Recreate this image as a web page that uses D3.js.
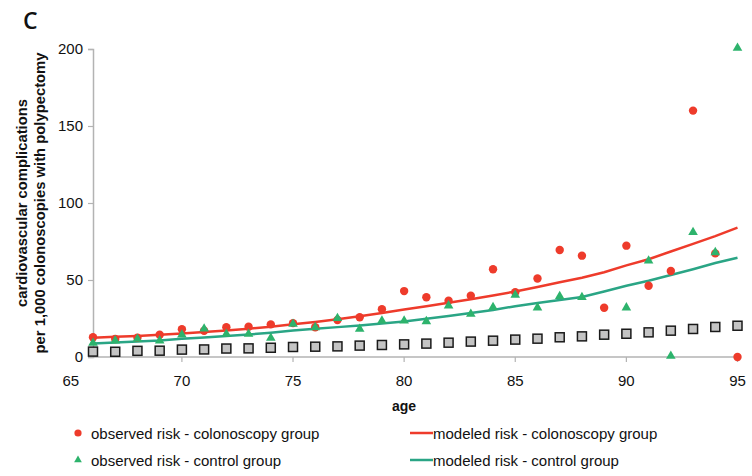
<!DOCTYPE html>
<html>
<head>
<meta charset="utf-8">
<script src="https://cdn.jsdelivr.net/npm/d3@7"></script>
<style>
  body { margin: 0; background: #fff; }
  text { font-family: "Liberation Sans", Arial, sans-serif; fill: #111; }
</style>
</head>
<body>
<div class="chart"></div>
<script>
// ages on the x axis
const ages = d3.range(66, 96);
// observed risk - colonoscopy group (red dots)
const obsColon = [12.8, 11.7, 12.5, 14.5, 18, 17, 19.3, 19.7, 21.2, 22, 19.3, 24, 25.8, 31, 42.8, 38.8, 36.6, 39.8, 57, 42, 51, 69.5, 65.8, 32, 72.3, 46.3, 55.8, 160, 67.3, 0];
// observed risk - control group (green triangles)
const obsControl = [8.4, 10, 11, 10, 13.8, 17.7, 14.3, 14.3, 11.7, 20.8, 18.6, 24.5, 17.5, 22.9, 22.9, 22.5, 32.7, 27.3, 31.6, 39.6, 31.4, 38.8, 38.1, 12.5, 31.4, 61.9, 0, 80.3, 67.3, 200];
// unlabelled grey squares
const excess = [3.5, 3.4, 4, 4.1, 4.8, 4.9, 5.5, 5.6, 6, 6.5, 6.7, 6.9, 7.4, 7.8, 8.2, 8.7, 9.3, 10, 10.6, 11.3, 11.9, 12.8, 13.4, 14.5, 15.1, 16, 17.1, 18.2, 19.5, 20.3];
// modeled risk lines
const modColon = [12.5, 13.1, 13.7, 14.4, 15.3, 16.2, 17.2, 18.4, 19.7, 21.2, 22.8, 24.5, 26.4, 28.6, 30.9, 33, 35.2, 37.5, 40, 42.5, 45.5, 48.5, 51.5, 55, 59.5, 63.5, 68.5, 73.5, 78.5, 84];
const modControl = [8.8, 9.4, 10, 10.7, 11.8, 12.6, 13.6, 14.6, 15.8, 17.2, 18.3, 19.4, 20.5, 21.7, 23, 24.8, 26.6, 28.5, 30.5, 33, 35, 37, 39, 42.5, 46.3, 49.5, 53.2, 57, 61, 64.5];
const xTicks = [65, 70, 75, 80, 85, 90, 95];
const yTicks = [0, 50, 100, 150, 200];

const RED = '#ee3b2b', GREEN = '#2db36c', TEAL = '#2aa585', AXIS = '#b3b3b3';

const svg = d3.select('.chart').append('svg').attr('width', 752).attr('height', 476);

const x = d3.scaleLinear().domain([66, 95]).range([93, 737.5]);
const y = d3.scaleLinear().domain([0, 200]).range([357, 49]);

// panel letter
svg.append('text').attr('x', 23).attr('y', 29).text('C')
    .style('font-family', '"Open Sans", sans-serif').style('font-weight', 600).style('font-size', '23px');

// y axis
const yAxis = svg.append('g').attr('transform', 'translate(93,0)')
    .call(d3.axisLeft(y).tickValues(yTicks).tickSize(5).tickPadding(5));
yAxis.select('.domain').attr('stroke', AXIS).attr('stroke-width', 1.5);
yAxis.selectAll('.tick line').attr('stroke', AXIS).attr('stroke-width', 1.2);
yAxis.selectAll('.tick text').style('font-size', '15px').attr('fill', '#111')
    .style('font-family', '"Liberation Sans", Arial, sans-serif');

// x axis: line, ticks below, labels
const xg = svg.append('g');
xg.append('line').attr('x1', x(66)).attr('x2', x(95) + 3).attr('y1', y(0)).attr('y2', y(0))
    .attr('stroke', AXIS).attr('stroke-width', 1.5);
xg.selectAll('.xt').data(xTicks.filter(d => d > 66)).enter().append('line')
    .attr('x1', d => x(d)).attr('x2', d => x(d)).attr('y1', y(0)).attr('y2', y(0) + 5)
    .attr('stroke', AXIS).attr('stroke-width', 1.2);
xg.selectAll('.xl').data(xTicks).enter().append('text')
    .attr('x', d => x(d)).attr('y', 386).attr('text-anchor', 'middle')
    .style('font-size', '15px').text(d => d);

// axis titles
svg.append('text').attr('x', 404).attr('y', 411).attr('text-anchor', 'middle')
    .style('font-size', '14px').style('font-weight', 'bold').text('age');
const yt = svg.append('text').attr('transform', 'translate(0,203) rotate(-90)')
    .attr('text-anchor', 'middle').style('font-size', '14.8px').style('font-weight', 'bold');
yt.append('tspan').attr('x', 0).attr('y', 27).text('cardiovascular complications');
yt.append('tspan').attr('x', 0).attr('y', 45).text('per 1,000 colonoscopies with polypectomy');

// modeled lines
const line = d3.line().x((d, i) => x(ages[i])).y(d => y(d));
svg.append('path').datum(modControl).attr('d', line).attr('fill', 'none')
    .attr('stroke', TEAL).attr('stroke-width', 2.5);
svg.append('path').datum(modColon).attr('d', line).attr('fill', 'none')
    .attr('stroke', RED).attr('stroke-width', 2.5);

// observed points
svg.selectAll('.dot').data(obsColon).enter().append('circle')
    .attr('cx', (d, i) => x(ages[i])).attr('cy', d => y(d)).attr('r', 4.2).attr('fill', RED);
const tri = d3.symbol().type(d3.symbolTriangle).size(40);
svg.selectAll('.tri').data(obsControl).enter().append('path')
    .attr('d', tri).attr('fill', GREEN)
    .attr('transform', (d, i) => `translate(${x(ages[i])},${y(d) - 1})`);
svg.selectAll('.sq').data(excess).enter().append('rect')
    .attr('x', (d, i) => x(ages[i]) - 4.5).attr('y', d => y(d) - 4.5)
    .attr('width', 9).attr('height', 9)
    .attr('fill', '#c4c4c4').attr('stroke', '#1a1a1a').attr('stroke-width', 1.5);

// legend
const lg = svg.append('g').style('font-size', '15px');
lg.append('circle').attr('cx', 78).attr('cy', 433).attr('r', 3.6).attr('fill', RED);
lg.append('path').attr('d', d3.symbol().type(d3.symbolTriangle).size(26))
    .attr('transform', 'translate(78,460)').attr('fill', GREEN);
lg.append('text').attr('x', 91).attr('y', 439).text('observed risk - colonoscopy group');
lg.append('text').attr('x', 91).attr('y', 466).text('observed risk - control group');
lg.append('line').attr('x1', 410).attr('x2', 433).attr('y1', 433).attr('y2', 433)
    .attr('stroke', RED).attr('stroke-width', 2.5);
lg.append('line').attr('x1', 410).attr('x2', 433).attr('y1', 460).attr('y2', 460)
    .attr('stroke', TEAL).attr('stroke-width', 2.5);
lg.append('text').attr('x', 433).attr('y', 439).text('modeled risk - colonoscopy group');
lg.append('text').attr('x', 433).attr('y', 466).text('modeled risk - control group');
</script>
</body>
</html>
